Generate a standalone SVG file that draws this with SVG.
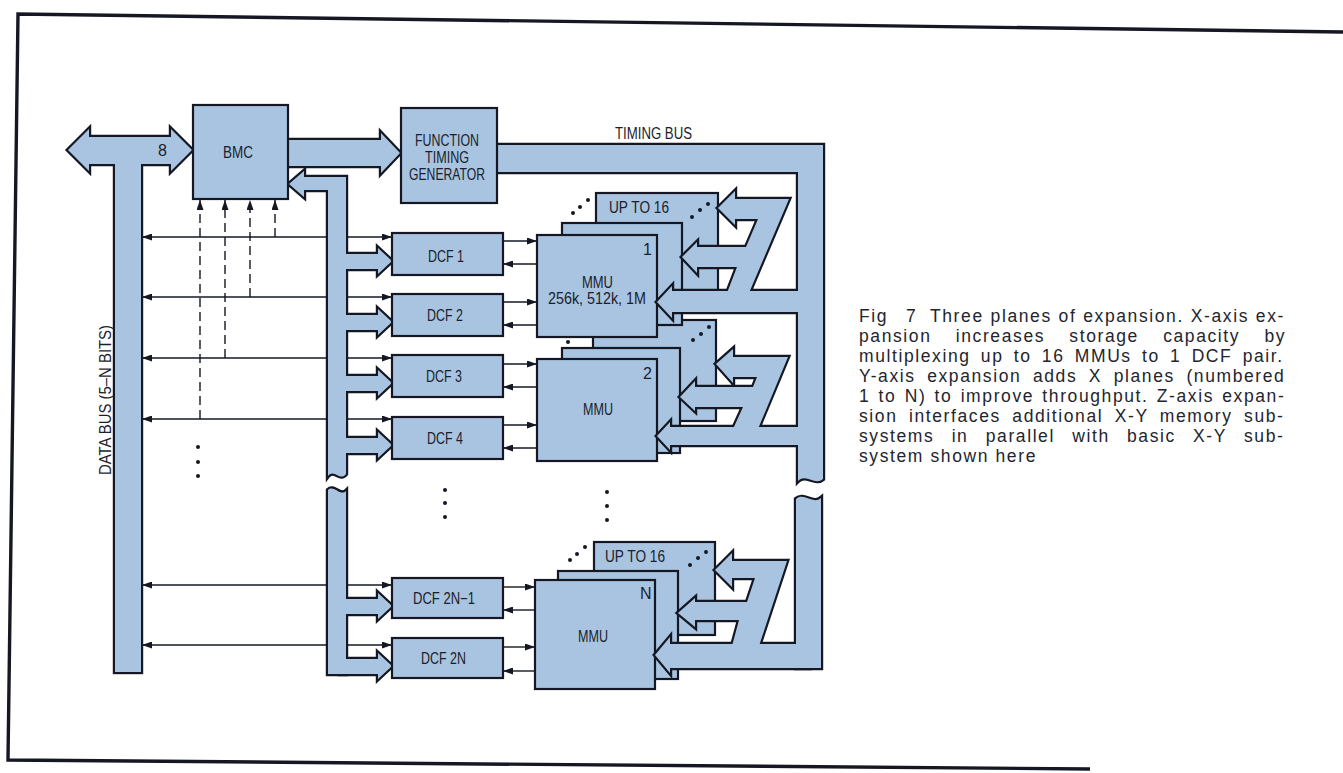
<svg xmlns="http://www.w3.org/2000/svg" width="1343" height="773" viewBox="0 0 1343 773">
<defs>
<style>
.bx{fill:#a8c4e0;stroke:#151823;stroke-width:2.2}
.ln{fill:none;stroke:#151823;stroke-width:1.4}
.ar{marker-end:url(#ah)}
.ar2{marker-start:url(#ah);marker-end:url(#ah)}
.dl{stroke-dasharray:9 5}
.t{font-family:"Liberation Sans",Arial,sans-serif;font-size:16px;fill:#1b1e2c}
.cap{font-family:"Liberation Sans",Arial,sans-serif;font-size:17.5px;letter-spacing:1.6px;fill:#23252e}
.dot{fill:#151823}
.fr{fill:none;stroke:#151823;stroke-width:3.4}
.bo{fill:#151823;stroke:#151823;stroke-width:4.4;stroke-linejoin:miter;stroke-miterlimit:10}
.bf{fill:#a8c4e0;stroke:none}
</style>
<marker id="ah" viewBox="0 0 10 7" refX="10" refY="3.5" markerWidth="10" markerHeight="7" markerUnits="userSpaceOnUse" orient="auto-start-reverse"><path d="M0,0 L10,3.5 L0,7 z" fill="#151823"/></marker>
<g id="busShapes">
<path d="M68,150 L89,129 V137 H171 V129 L192,150 L171,171 V164 H89 V171 Z"/>
<rect x="115" y="150" width="26" height="522"/>
<path d="M286,140 H381 V133 L400,153 L381,173 V166 H286 Z"/>
<path d="M289,184 L304,171 V177 H346 V474 C340,482 334,468 328,476 V190 H304 V197 Z"/>
<path d="M328,490 C334,484 340,497 346,491 V674 H328 Z"/>
<path d="M340,254 H378 V248 L392,261 L378,274 V269 H340 Z"/>
<path d="M340,315 H378 V309 L392,322 L378,335 V330 H340 Z"/>
<path d="M340,376 H378 V370 L392,383 L378,396 V391 H340 Z"/>
<path d="M340,438 H378 V432 L392,445 L378,458 V453 H340 Z"/>
<path d="M340,599 H378 V593 L392,606 L378,619 V614 H340 Z"/>
<path d="M340,659 H378 V653 L392,666 L378,679 V674 H340 Z"/>
<path d="M495,145 H823 V479 C815,486 806,473 798,481 V172 H495 Z"/>
<path d="M796,499 C804,492 813,505 821,498 V668 H796 Z"/>
<path d="M657,302 L672,286 V291 H805 V312 H672 V318 Z"/>
<path d="M657,436 L670,422 V427 H805 V445 H670 V450 Z"/>
<path d="M655,655 L670,637 V644 H810 V668 H670 V673 Z"/>
<path d="M718,208 L735,191 V199 H789 L749,293 H727 L737,267 H697 V273 L682,257 L697,242 V247 H746 L758,219 H735 V225 Z"/>
<path d="M716,364 L733,349 V357 H788 L758,429 H733 L743,407 H695 V411 L680,397 L695,381 V387 H753 L757,377 H733 V383 Z"/>
<path d="M715,570 L732,553 V561 H787 L759,646 H732 L739,620 H695 V627 L678,613 L695,598 V602 H747 L755,578 H732 V587 Z"/>
</g>
</defs>
<rect width="1343" height="773" fill="#ffffff"/>
<g id="frame">
<path class="fr" d="M1343,32 L18,14 L8,760 L1090,769"/>
</g>
<g id="connectors">
<path class="ln ar2" d="M142,237 H392"/>
<path class="ln ar2" d="M142,297 H392"/>
<path class="ln ar2" d="M142,358 H392"/>
<path class="ln ar2" d="M142,419 H392"/>
<path class="ln ar2" d="M142,585 H392"/>
<path class="ln ar2" d="M142,645 H392"/>
<path class="ln dl ar" d="M275,237 V200"/>
<path class="ln dl ar" d="M250,297 V200"/>
<path class="ln dl ar" d="M225,358 V200"/>
<path class="ln dl ar" d="M200,419 V200"/>
<path class="ln ar" d="M503,241 H537"/>
<path class="ln ar" d="M537,264 H503"/>
<path class="ln ar" d="M503,302 H537"/>
<path class="ln ar" d="M537,325 H503"/>
<path class="ln ar" d="M503,364 H537"/>
<path class="ln ar" d="M537,387 H503"/>
<path class="ln ar" d="M503,425 H537"/>
<path class="ln ar" d="M537,448 H503"/>
<path class="ln ar" d="M503,587 H535"/>
<path class="ln ar" d="M535,610 H503"/>
<path class="ln ar" d="M503,647 H535"/>
<path class="ln ar" d="M535,671 H503"/>
</g>
<g id="ellipses">
<circle class="dot" cx="198" cy="447" r="2"/><circle class="dot" cx="198" cy="462" r="2"/><circle class="dot" cx="198" cy="476" r="2"/>
<circle class="dot" cx="445" cy="490" r="2"/><circle class="dot" cx="445" cy="503" r="2"/><circle class="dot" cx="445" cy="517" r="2"/>
<circle class="dot" cx="607" cy="492" r="2"/><circle class="dot" cx="607" cy="506" r="2"/><circle class="dot" cx="607" cy="520" r="2"/>
</g>
<g id="mmu2">
<rect class="bx" x="593" y="320" width="123" height="101"/>
<circle class="dot" cx="568" cy="342" r="2"/><circle class="dot" cx="575" cy="335" r="2"/><circle class="dot" cx="582" cy="328" r="2"/>
<circle class="dot" cx="693" cy="340" r="2"/><circle class="dot" cx="701" cy="334" r="2"/><circle class="dot" cx="709" cy="327" r="2"/>
</g>
<g id="mmu1">
<rect class="bx" x="596" y="193" width="122" height="107"/>
<text class="t" x="609" y="213" textLength="60" lengthAdjust="spacingAndGlyphs">UP TO 16</text>
<circle class="dot" cx="573" cy="213" r="2"/><circle class="dot" cx="580" cy="207" r="2"/><circle class="dot" cx="588" cy="200" r="2"/>
<circle class="dot" cx="692" cy="217" r="2"/><circle class="dot" cx="700" cy="210" r="2"/><circle class="dot" cx="708" cy="204" r="2"/>
<rect class="bx" x="562" y="223" width="120" height="102"/>
<rect class="bx" x="537" y="235" width="120" height="102"/>
<text class="t" x="643" y="255">1</text>
<text class="t" x="582" y="288" textLength="31" lengthAdjust="spacingAndGlyphs">MMU</text>
<text class="t" x="548" y="304" textLength="98" lengthAdjust="spacingAndGlyphs">256k, 512k, 1M</text>
</g>
<g id="mmu2-front">
<rect class="bx" x="562" y="348" width="118" height="105"/>
<rect class="bx" x="537" y="359" width="120" height="102"/>
<text class="t" x="643" y="379">2</text>
<text class="t" x="583" y="415" textLength="30" lengthAdjust="spacingAndGlyphs">MMU</text>
</g>
<g id="mmuN">
<rect class="bx" x="594" y="542" width="121" height="93"/>
<text class="t" x="605" y="562" textLength="60" lengthAdjust="spacingAndGlyphs">UP TO 16</text>
<circle class="dot" cx="570" cy="560" r="2"/><circle class="dot" cx="577" cy="554" r="2"/><circle class="dot" cx="585" cy="547" r="2"/>
<circle class="dot" cx="690" cy="565" r="2"/><circle class="dot" cx="698" cy="558" r="2"/><circle class="dot" cx="706" cy="552" r="2"/>
<rect class="bx" x="558" y="571" width="120" height="108"/>
<rect class="bx" x="535" y="580" width="120" height="109"/>
<text class="t" x="640" y="599">N</text>
<text class="t" x="578" y="642" textLength="30" lengthAdjust="spacingAndGlyphs">MMU</text>
</g>
<g id="buses">
<use href="#busShapes" class="bo"/>
<use href="#busShapes" class="bf"/>
</g>
<g id="bmc">
<rect class="bx" x="193" y="105" width="95" height="94"/>
<text class="t" x="223" y="158" textLength="30" lengthAdjust="spacingAndGlyphs">BMC</text>
</g>
<text id="width-label" class="t" x="158" y="156">8</text>
<g id="ftg">
<rect class="bx" x="401" y="108" width="96" height="95"/>
<text class="t" x="415" y="146" textLength="64" lengthAdjust="spacingAndGlyphs">FUNCTION</text>
<text class="t" x="425" y="163" textLength="44" lengthAdjust="spacingAndGlyphs">TIMING</text>
<text class="t" x="409" y="180" textLength="76" lengthAdjust="spacingAndGlyphs">GENERATOR</text>
</g>
<text id="timing-bus-label" class="t" x="615" y="139" textLength="77" lengthAdjust="spacingAndGlyphs">TIMING BUS</text>
<text id="data-bus-label" class="t" transform="translate(111,475) rotate(-90)" x="0" y="0" textLength="150" lengthAdjust="spacingAndGlyphs">DATA BUS (5–N BITS)</text>
<g id="dcf1"><rect class="bx" x="392" y="233" width="111" height="42"/><text class="t" x="428" y="262" textLength="36" lengthAdjust="spacingAndGlyphs">DCF 1</text></g>
<g id="dcf2"><rect class="bx" x="392" y="294" width="111" height="42"/><text class="t" x="427" y="321" textLength="36" lengthAdjust="spacingAndGlyphs">DCF 2</text></g>
<g id="dcf3"><rect class="bx" x="392" y="355" width="111" height="42"/><text class="t" x="426" y="382" textLength="36" lengthAdjust="spacingAndGlyphs">DCF 3</text></g>
<g id="dcf4"><rect class="bx" x="392" y="417" width="111" height="42"/><text class="t" x="427" y="444" textLength="36" lengthAdjust="spacingAndGlyphs">DCF 4</text></g>
<g id="dcf2n-1"><rect class="bx" x="392" y="578" width="111" height="40"/><text class="t" x="413" y="604" textLength="62" lengthAdjust="spacingAndGlyphs">DCF 2N−1</text></g>
<g id="dcf2n"><rect class="bx" x="392" y="638" width="111" height="40"/><text class="t" x="421" y="664" textLength="45" lengthAdjust="spacingAndGlyphs">DCF 2N</text></g>
<g id="caption">
<text class="cap">
<tspan x="859" y="322">Fig</tspan><tspan x="906" y="322">7</tspan><tspan x="930" y="322" word-spacing="0.4">Three planes of expansion. X-axis ex-</tspan>
<tspan x="859" y="342" word-spacing="17.8">pansion increases storage capacity by</tspan>
<tspan x="859" y="362" word-spacing="3.8">multiplexing up to 16 MMUs to 1 DCF pair.</tspan>
<tspan x="859" y="382" word-spacing="5.1">Y-axis expansion adds X planes (numbered</tspan>
<tspan x="859" y="402" word-spacing="1.8">1 to N) to improve throughput. Z-axis expan-</tspan>
<tspan x="859" y="422" word-spacing="5">sion interfaces additional X-Y memory sub-</tspan>
<tspan x="859" y="442" word-spacing="10.8">systems in parallel with basic X-Y sub-</tspan>
<tspan x="859" y="462">system shown here</tspan>
</text>
</g>
</svg>
